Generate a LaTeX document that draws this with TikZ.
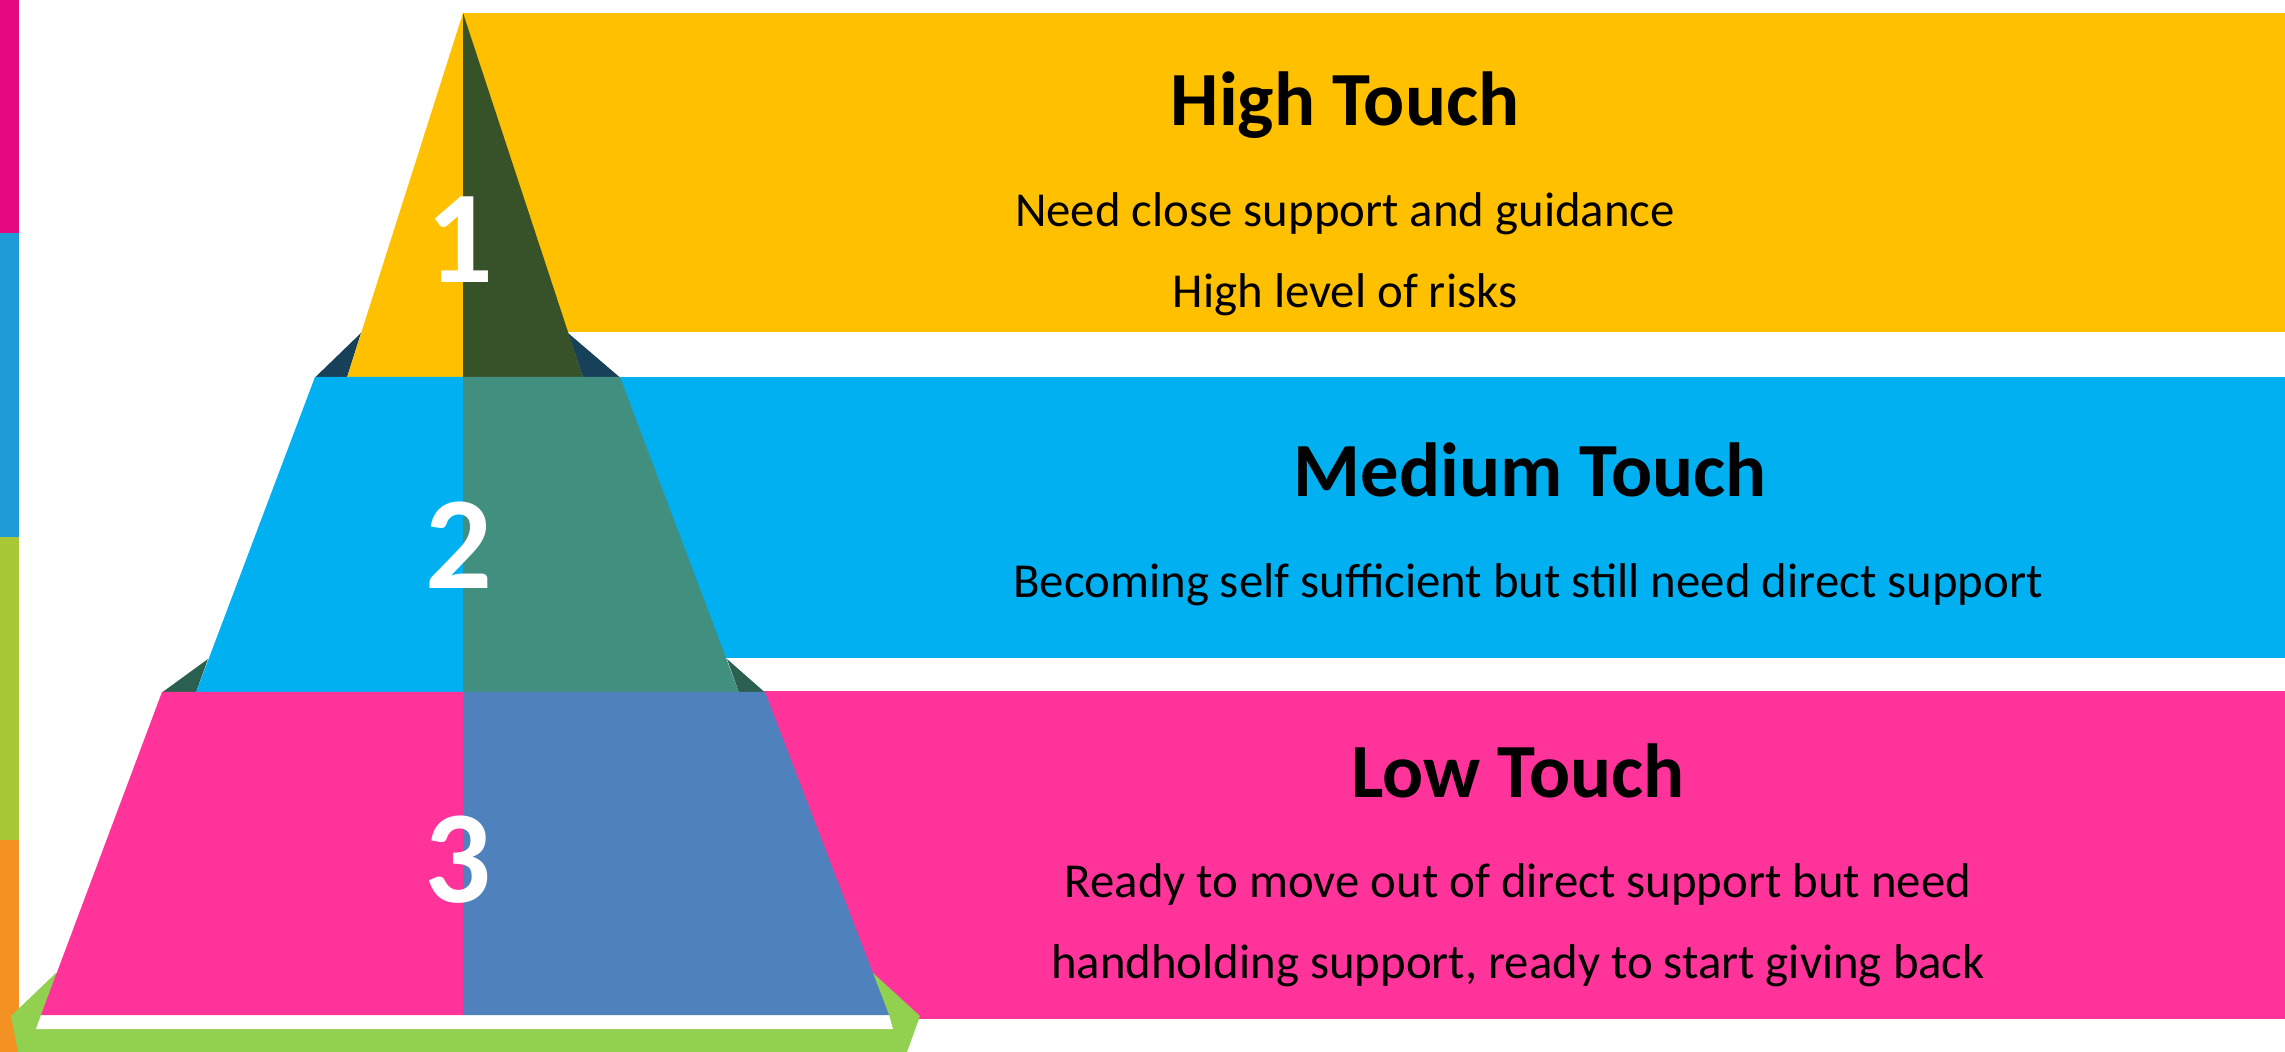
\documentclass[tikz,border=0pt]{standalone}
\usepackage{fontspec}
\setmainfont{Carlito}
\definecolor{cYellow}{HTML}{FFC000}
\definecolor{cDkGreen}{HTML}{375229}
\definecolor{cNavy}{HTML}{174059}
\definecolor{cBlue}{HTML}{00B0F0}
\definecolor{cTeal}{HTML}{418F7E}
\definecolor{cDkTeal}{HTML}{2B6051}
\definecolor{cPink}{HTML}{FF3399}
\definecolor{cSteel}{HTML}{4F81BD}
\definecolor{cBase}{HTML}{92D050}
\definecolor{sMag}{HTML}{E4097F}
\definecolor{sBlue}{HTML}{1F9BD7}
\definecolor{sGreen}{HTML}{A8C838}
\definecolor{sOrange}{HTML}{F39222}
\tikzset{
  title/.style={font=\fontsize{38.3}{46}\selectfont\bfseries, anchor=base, inner sep=0pt, text=black},
  body/.style={font=\fontsize{24.4}{29}\selectfont, anchor=base, inner sep=0pt, text=black},
  num/.style={font=\fontsize{66}{70}\selectfont\bfseries, anchor=center, inner sep=0pt, text=white},
}
\begin{document}
\begin{tikzpicture}[x=0.5pt,y=-0.5pt]
\useasboundingbox (0,0) rectangle (2285,1052);
\fill[white] (0,0) rectangle (2285,1052);
% left strip
\fill[sMag] (0,0) rectangle (19,233);
\fill[sBlue] (0,233) rectangle (19,537);
\fill[sGreen] (0,537) rectangle (19,840);
\fill[sOrange] (0,840) rectangle (19,1052);
% bands
\fill[cYellow] (463,13) rectangle (2285,332);
\fill[cBlue] (463,377) rectangle (2285,658);
\fill[cPink] (458,691) rectangle (2285,1019);
% green base
\fill[cBase] (56,973) -- (11,1016) -- (18,1052) -- (907,1052) -- (920,1016) -- (873,973) -- cycle;
\fill[white] (41,1015) -- (889,1015) -- (893,1029) -- (36,1029) -- cycle;
% back triangles
\fill[cNavy] (361,333) -- (315,377.5) -- (347,377.5) -- cycle;
\fill[cNavy] (568,333) -- (620,377.5) -- (583,377.5) -- cycle;
\fill[cDkTeal] (208,659) -- (162,692.5) -- (196,692.5) -- cycle;
\fill[cDkTeal] (727,659) -- (765,692.5) -- (739,692.5) -- cycle;
% tier 1
\fill[cYellow] (463,13) -- (347,377.5) -- (463.5,377.5) -- (463.5,13) -- cycle;
\fill[cDkGreen] (463,13) -- (583,377.5) -- (463,377.5) -- cycle;
% tier 2
\fill[cBlue] (315,377) -- (463.5,377) -- (463.5,692.5) -- (196,692.5) -- cycle;
\fill[cTeal] (463,377) -- (620,377) -- (739,692.5) -- (463,692.5) -- cycle;
% tier 3
\fill[cPink] (162,692) -- (463.5,692) -- (463.5,1015) -- (41,1015) -- cycle;
\fill[cSteel] (463,692) -- (765,692) -- (889,1015) -- (463,1015) -- cycle;
% numbers
\node[num] (n1) at (460,240) {1};
\node[num] (n2) at (459,545) {2};
\node[num] (n3) at (458,860) {3};
% texts
\node[title] (t1) at (1345,126) {High Touch};
\node[body] (b1a) at (1345,227) {Need close support and guidance};
\node[body] (b1b) at (1345,308) {High level of risks};
\node[title] (t2) at (1530,497) {Medium Touch};
\node[body] (b2) at (1528,598) {Becoming self sufficient but still need direct support};
\node[title] (t3) at (1518,797) {Low Touch};
\node[body] (b3a) at (1518,897) {Ready to move out of direct support but need};
\node[body] (b3b) at (1518,978) {handholding support, ready to start giving back};
\end{tikzpicture}
\end{document}
